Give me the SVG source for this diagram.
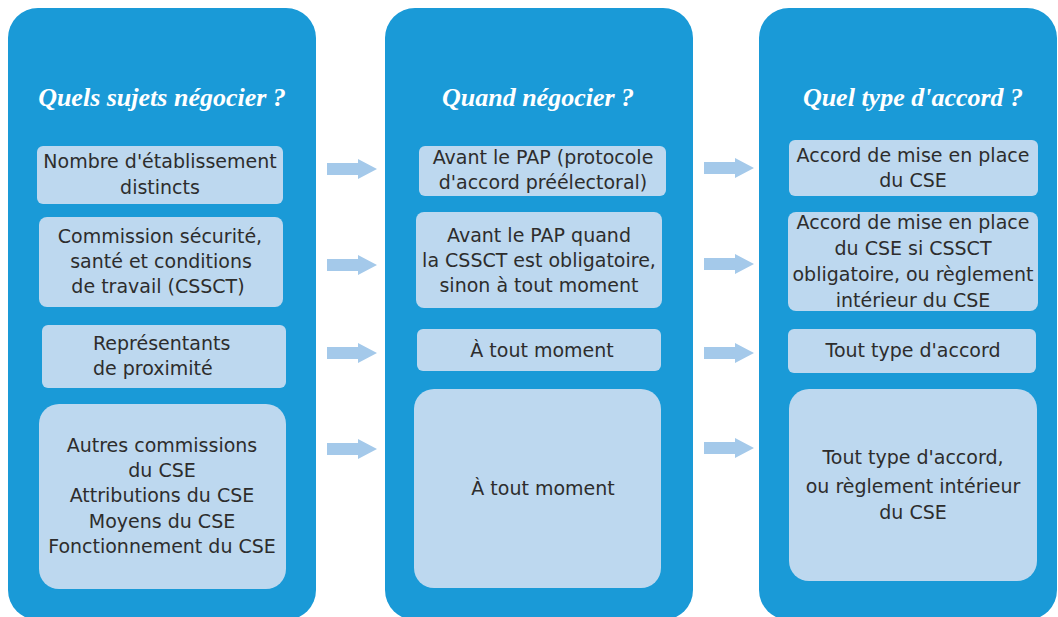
<svg xmlns="http://www.w3.org/2000/svg" xmlns:xlink="http://www.w3.org/1999/xlink" width="1058" height="617" viewBox="0 0 1058 617">
<style>
.panel{fill:#1a9ad7}
.box{fill:#bdd8ef}
.arrow{fill:#a4c9ea}
.hd{font-family:"Liberation Serif","DejaVu Serif",serif;font-style:italic;font-weight:bold;font-size:26px;fill:#ffffff;text-anchor:middle}
.t{font-family:"DejaVu Sans","Noto Sans",sans-serif;font-size:19px;fill:#2d2d2d;text-anchor:middle}
.s{text-anchor:start}
</style>
<defs>
<path id="arr" d="M0,-6 H31 V-10 L50,0 L31,10 V6 H0 Z"/>
</defs>
<rect width="1058" height="617" fill="#ffffff"/>
<g id="panel-sujets">
<rect class="panel" x="8" y="8" width="308" height="612" rx="30"/>
<text class="hd" x="162" y="106">Quels sujets négocier ?</text>
</g>
<g id="panel-quand">
<rect class="panel" x="385" y="8" width="308" height="612" rx="30"/>
<text class="hd" x="538" y="106">Quand négocier ?</text>
</g>
<g id="panel-accord">
<rect class="panel" x="759" y="8" width="298" height="612" rx="30"/>
<text class="hd" x="913" y="106">Quel type d'accord ?</text>
</g>
<g id="s1"><rect class="box" x="37" y="146" width="246" height="58" rx="6"/>
<text class="t" x="160" y="168">Nombre d'établissement</text><text class="t" x="160" y="194">distincts</text></g>
<g id="s2"><rect class="box" x="39" y="217" width="244" height="90" rx="8"/>
<text class="t" x="160" y="243">Commission sécurité,</text><text class="t" x="161" y="268">santé et conditions</text><text class="t" x="158" y="293">de travail (CSSCT)</text></g>
<g id="s3"><rect class="box" x="42" y="325" width="244" height="63" rx="6"/>
<text class="t s" x="93" y="350">Représentants</text><text class="t s" x="93" y="375">de proximité</text></g>
<g id="s4"><rect class="box" x="39" y="404" width="247" height="185" rx="20"/>
<text class="t" x="162" y="452">Autres commissions</text><text class="t" x="162" y="477">du CSE</text><text class="t" x="162" y="502">Attributions du CSE</text><text class="t" x="162" y="528">Moyens du CSE</text><text class="t" x="162" y="553">Fonctionnement du CSE</text></g>
<g id="q1"><rect class="box" x="419" y="146" width="247" height="50" rx="6"/>
<text class="t" x="543" y="164">Avant le PAP (protocole</text><text class="t" x="543" y="189">d'accord préélectoral)</text></g>
<g id="q2"><rect class="box" x="416" y="212" width="246" height="96" rx="8"/>
<text class="t" x="539" y="242">Avant le PAP quand</text><text class="t" x="539" y="267">la CSSCT est obligatoire,</text><text class="t" x="539" y="292">sinon à tout moment</text></g>
<g id="q3"><rect class="box" x="417" y="329" width="244" height="42" rx="6"/>
<text class="t" x="542" y="357">À tout moment</text></g>
<g id="q4"><rect class="box" x="414" y="389" width="247" height="199" rx="20"/>
<text class="t" x="543" y="495">À tout moment</text></g>
<g id="a1"><rect class="box" x="789" y="140" width="249" height="56" rx="6"/>
<text class="t" x="913" y="162">Accord de mise en place</text><text class="t" x="913" y="187">du CSE</text></g>
<g id="a2"><rect class="box" x="788" y="212" width="250" height="99" rx="8"/>
<text class="t" x="913" y="229">Accord de mise en place</text><text class="t" x="913" y="255">du CSE si CSSCT</text><text class="t" x="913" y="281">obligatoire, ou règlement</text><text class="t" x="913" y="307">intérieur du CSE</text></g>
<g id="a3"><rect class="box" x="788" y="329" width="248" height="44" rx="6"/>
<text class="t" x="913" y="357">Tout type d'accord</text></g>
<g id="a4"><rect class="box" x="789" y="389" width="248" height="192" rx="20"/>
<text class="t" x="913" y="464">Tout type d'accord,</text><text class="t" x="913" y="493">ou règlement intérieur</text><text class="t" x="913" y="519">du CSE</text></g>
<g id="connectors" class="arrow">
<use xlink:href="#arr" x="327" y="169"/>
<use xlink:href="#arr" x="327" y="265"/>
<use xlink:href="#arr" x="327" y="353"/>
<use xlink:href="#arr" x="327" y="449"/>
<use xlink:href="#arr" x="704" y="168"/>
<use xlink:href="#arr" x="704" y="264"/>
<use xlink:href="#arr" x="704" y="353"/>
<use xlink:href="#arr" x="704" y="448"/>
</g>
</svg>
